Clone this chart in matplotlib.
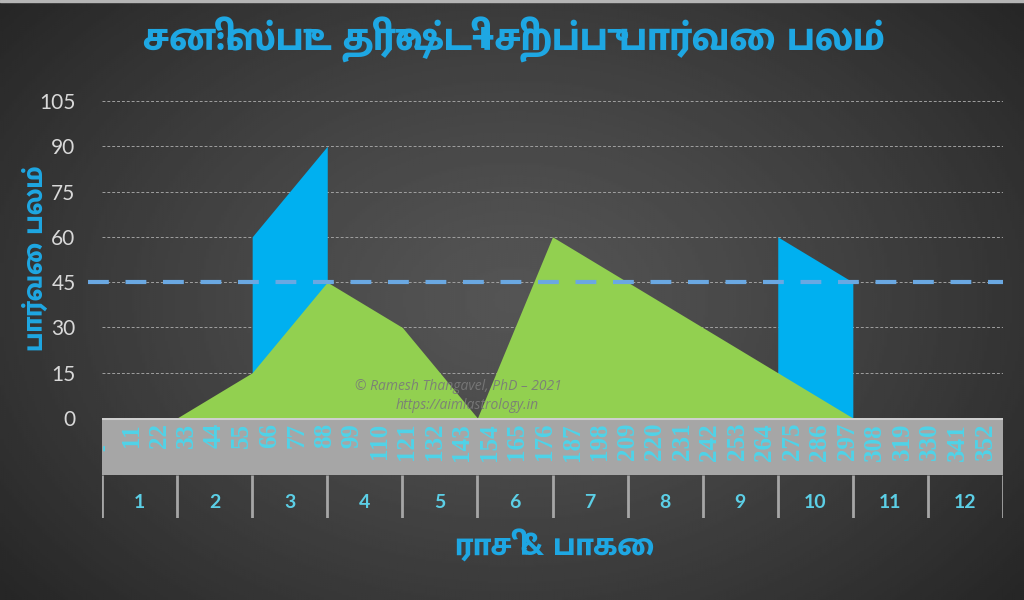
import numpy as np
import matplotlib
matplotlib.use("Agg")
import matplotlib.pyplot as plt
from matplotlib.patches import Rectangle

# data (degree, strength) break points
green_deg = [0, 30, 60, 90, 120, 150, 180, 300, 360]
green_val = [0, 0, 15, 45, 30, 0, 60, 0, 0]
blue_deg = [0, 60, 60, 90, 90, 270, 270, 300, 300, 360]
blue_val = [0, 0, 60, 90, 0, 0, 60, 45, 0, 0]
threshold = 45

deg_labels = [0, 11, 22, 33, 44, 55, 66, 77, 88, 99, 110, 121, 132, 143, 154, 165,
              176, 187, 198, 209, 220, 231, 242, 253, 264, 275, 286, 297, 308, 319,
              330, 341, 352]
signs = [1, 2, 3, 4, 5, 6, 7, 8, 9, 10, 11, 12]
sign_edges = [0, 30, 60, 90, 120, 150, 180, 210, 240, 270, 300, 330, 360]
y_ticks = [0, 15, 30, 45, 60, 75, 90, 105]

title = "சனி:ஸ்புட திருஷ்டி+சிறப்பு பார்வை பலம்"
ylabel = "பார்வை பலம்"
xlabel = "ராசி & பாகை"

tamil_family = ['Mukta Malar', 'DejaVu Sans']

W, H = 1024, 600
fig = plt.figure(figsize=(W / 100, H / 100), dpi=100)

# dark radial background
bg = fig.add_axes([0, 0, 1, 1])
gx, gy = np.meshgrid(np.linspace(0, 1, 400), np.linspace(0, 1, 300))
r = np.sqrt(((gx - 0.5) / 0.75) ** 2 + ((gy - 0.5) / 0.9) ** 2)
grad = np.clip(0.33 - 0.22 * r ** 1.3, 0.15, 0.4)
bg.imshow(grad, cmap='gray', vmin=0, vmax=1, aspect='auto', extent=[0, 1, 0, 1])
bg.axhspan(0.996, 1, color='#b5b5b5')
bg.set_xlim(0, 1)
bg.set_ylim(0, 1)
bg.axis('off')

ax = fig.add_axes([102 / W, 182 / H, 901 / W, 317 / H])
ax.set_facecolor('none')
ax.set_xlim(0, 360)
ax.set_ylim(0, 105)
ax.set_axisbelow(True)
ax.fill_between(blue_deg, blue_val, color='#00B0F0', lw=0, zorder=2)
ax.fill_between(green_deg, green_val, color='#92D050', lw=0, zorder=3)
ax.plot([-5.6, 360], [threshold, threshold], color='#6AA8E2', lw=3,
        ls=(0, (5, 4)), clip_on=False, zorder=4)
ax.set_yticks(y_ticks)
ax.set_xticks([])
ax.grid(axis='y', color='#a0a0a0', lw=0.7, ls=(0, (3, 2)))
ax.tick_params(axis='y', length=0, pad=19, labelsize=15, labelcolor='#D9D9D9')
for lab in ax.get_yticklabels():
    lab.set_family('Lato')
for s in ax.spines.values():
    s.set_visible(False)

ax.text(0.395, 0.10, "© Ramesh Thangavel, PhD – 2021", transform=ax.transAxes,
        ha='center', va='center', fontsize=10, style='italic', color='#7a7a7a',
        alpha=0.9, family='Open Sans', zorder=5)
ax.text(0.405, 0.04, "https://aimlastrology.in", transform=ax.transAxes,
        ha='center', va='center', fontsize=10, style='italic', color='#7a7a7a',
        alpha=0.9, family='Open Sans', zorder=5)

# category band below the plot
axb = fig.add_axes([102 / W, 82 / H, 901 / W, 100 / H])
axb.set_xlim(0, 360)
axb.set_ylim(100, 0)
axb.axis('off')
axb.add_patch(Rectangle((0, 0), 360, 57, fc='#A6A6A6', ec='none'))
axb.axhline(0.6, color='#cfcfcf', lw=1.5)
for d in deg_labels:
    if d == 0:
        axb.text(d + 1.2, 30, '-', rotation=90, ha='center', va='center',
                 color='#4FD3E8', fontsize=14, family='Liberation Serif', fontweight='bold')
    else:
        axb.text(d + 0.8, 5, str(d), rotation=90, ha='center', va='top',
                 color='#4FD3E8', fontsize=18, family='Liberation Serif', fontweight='bold')
axb.vlines(sign_edges, 57, 100, color='#A6A6A6', lw=2)
for i, n in enumerate(signs):
    axb.text((sign_edges[i] + sign_edges[i + 1]) / 2, 85, str(n), ha='center', va='center',
             color='#5CCFE6', fontsize=14, fontweight='bold', family='Lato')

fig.text(514 / W, 1 - 40 / H, title, ha='center', va='center', fontsize=30,
         fontweight=800, color='#1EA7E3', family=tamil_family)
fig.text(36 / W, 1 - 258 / H, ylabel, ha='center', va='center', rotation=90,
         fontsize=21, fontweight=800, color='#1EA7E3', family=tamil_family)
fig.text(555 / W, 1 - 546 / H, xlabel, ha='center', va='center', fontsize=24,
         fontweight=800, color='#1EA7E3', family=tamil_family)

fig.savefig('out.png', dpi=100)
